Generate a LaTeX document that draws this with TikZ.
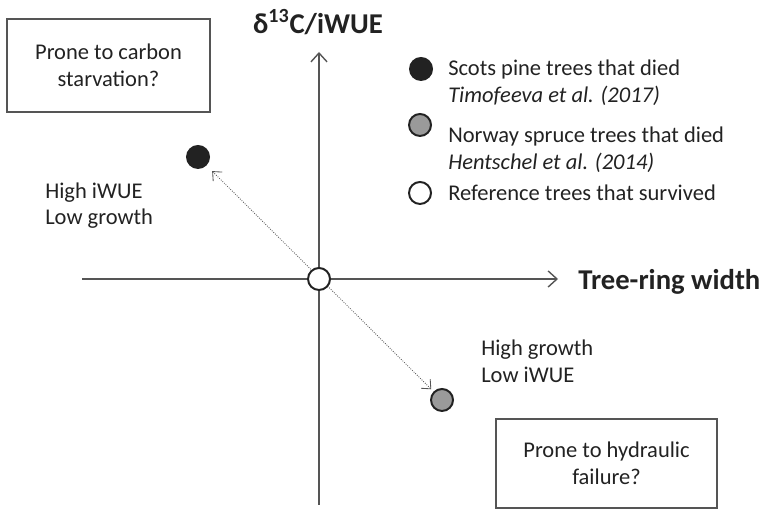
\documentclass[tikz,border=0pt]{standalone}
\usepackage{fontspec}
\setmainfont{Carlito}
\usetikzlibrary{shapes,arrows,arrows.meta}
\definecolor{axisgray}{HTML}{555555}
\definecolor{txtgray}{HTML}{222222}
\definecolor{dotgray}{HTML}{9A9A9A}

\begin{document}
\begin{tikzpicture}[scale=1.0000]
	\tikzstyle{every node}=[scale=1.0000, text=txtgray, font=\fontsize{16}{19}\selectfont]
	\tikzstyle{axisline}=[draw=axisgray, line width=1.0000pt, -{Straight Barb[length=2.2mm,width=4.0mm]}]
	\tikzstyle{axislabel}=[font=\fontsize{20.4}{24}\selectfont\bfseries]
	\tikzstyle{dot}=[circle, inner sep=0pt, minimum size=0.5500cm, draw=txtgray, line width=1.4000pt]
	\tikzstyle{promptbox}=[draw=axisgray, line width=0.8000pt, align=center, inner sep=0pt]
	\tikzstyle{note}=[align=left, inner sep=0pt, anchor=west]

	\useasboundingbox (0.0000,0.0000) rectangle (19.1750,12.8000);

	%% the two trees that died
	\node [dot, fill=txtgray]  (pine)   at (4.9500,8.8750)  {};
	\node [dot, fill=dotgray]  (spruce) at (11.0500,2.8000) {};

	%% axes
	\coordinate (ybot) at (7.9750,0.1750);
	\coordinate (ytop) at (7.9750,11.5000);
	\coordinate (xlft) at (2.0500,5.8250);
	\coordinate (xrgt) at (13.9500,5.8250);
	\draw [axisline]  (ybot) -- (ytop);
	\draw [axisline]  (xlft) -- (xrgt);
	\node [axislabel]  (ylab) at (7.9500,12.2500)  {δ\textsuperscript{13}C/iWUE};
	\node [axislabel, anchor=west, inner sep=0pt]  (xlab) at (14.4500,5.7500)  {Tree-ring width};

	\draw [axisgray, line width=0.6000pt, densely dotted, {Straight Barb[length=1.8mm,width=3.2mm]}-{Straight Barb[length=1.8mm,width=3.2mm]},
	       shorten <=0.2000cm, shorten >=0.0800cm]  (pine) -- (spruce);
	\node [dot, fill=white]  (ref)  at (7.9750,5.8250)  {};

	%% boxes
	\node [promptbox, minimum width=5.0750cm, minimum height=2.3250cm]  (carbon) at (2.7125,11.1625)  {Prone to carbon\\starvation?};
	\node [promptbox, minimum width=5.5250cm, minimum height=2.2250cm]  (hydro)  at (15.1625,1.2125)  {Prone to hydraulic\\failure?};

	%% annotations
	\node [note]  (hiwue) at (1.1250,7.6625)   {High iWUE\\Low growth};
	\node [note]  (hgrow) at (12.0250,3.7750)  {High growth\\Low iWUE};

	%% legend
	\node [dot, fill=txtgray]  (lgpine)   at (10.5250,11.0750)  {};
	\node [dot, fill=dotgray]  (lgspruce) at (10.5000,9.6750)   {};
	\node [dot, fill=white]    (lgref)    at (10.5000,7.9750)   {};
	\node [note]  (txpine)   at (11.2000,10.7375)  {Scots pine trees that died\\\textit{Timofeeva et al. (2017)}};
	\node [note]  (txspruce) at (11.2000,9.0625)   {Norway spruce trees that died\\\textit{Hentschel et al. (2014)}};
	\node [note]  (txref)    at (11.2000,7.9750)   {Reference trees that survived};

\end{tikzpicture}
\end{document}
